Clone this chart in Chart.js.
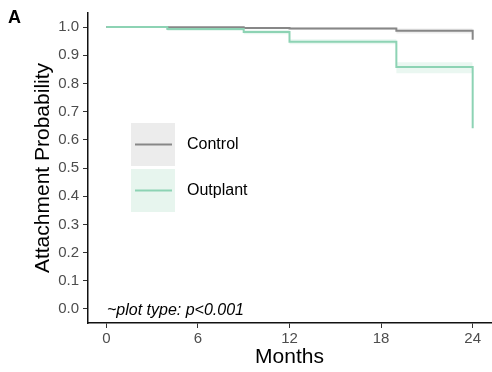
<!DOCTYPE html>
<html>
<head>
<meta charset="utf-8">
<script src="https://cdn.jsdelivr.net/npm/chart.js@4"></script>
<style>
  html, body { margin: 0; padding: 0; background: #fff; }
  #wrap { width: 492px; height: 372px; }
</style>
</head>
<body>
<div id="wrap"><canvas id="kmChart" width="492" height="372"></canvas></div>
<script>
// --- data ---
const months = [0, 4, 9, 12, 19, 24];
const controlSurv = [1.0, 0.999, 0.997, 0.995, 0.987, 0.955];
const controlUpper = [1.0, 1.0, 1.0, 0.999, 0.995, 0.995];
const controlLower = [1.0, 0.997, 0.993, 0.990, 0.977, 0.977];
const outplantSurv = [1.0, 0.993, 0.983, 0.948, 0.858, 0.641];
const outplantUpper = [1.0, 0.999, 0.991, 0.957, 0.875, 0.875];
const outplantLower = [1.0, 0.986, 0.975, 0.939, 0.836, 0.836];
const xTicks = [0, 6, 12, 18, 24];
const yTicks = [0, 0.1, 0.2, 0.3, 0.4, 0.5, 0.6, 0.7, 0.8, 0.9, 1.0];
const seriesNames = ['Control', 'Outplant'];

const grey = '#878787';
const green = '#8dd3b4';

const pts = (arr) => months.map((m, i) => ({ x: m, y: arr[i] }));

function band(arr, fill, color) {
    return {
        data: pts(arr),
        stepped: 'before',
        borderWidth: 0,
        pointRadius: 0,
        backgroundColor: color,
        fill: fill
    };
}

// legend, panel letter and test annotation
const extras = {
    id: 'extras',
    afterDraw(chart) {
        const ctx = chart.ctx;
        ctx.save();
        const boxes = [
            { y: 123, fill: '#ececec', line: grey, name: seriesNames[0] },
            { y: 169, fill: '#e7f5ee', line: green, name: seriesNames[1] }
        ];
        boxes.forEach((b) => {
            ctx.fillStyle = b.fill;
            ctx.fillRect(131, b.y, 44, 43);
            ctx.strokeStyle = b.line;
            ctx.lineWidth = 2;
            ctx.beginPath();
            ctx.moveTo(135, b.y + 21.5);
            ctx.lineTo(172, b.y + 21.5);
            ctx.stroke();
            ctx.fillStyle = '#000';
            ctx.font = '16px "Liberation Sans", Arial, sans-serif';
            ctx.textBaseline = 'middle';
            ctx.fillText(b.name, 187, b.y + 21.5);
        });

        ctx.font = 'bold 18px "Liberation Sans", Arial, sans-serif';
        ctx.textBaseline = 'alphabetic';
        ctx.fillText('A', 8, 23);

        ctx.font = 'italic 16px "Liberation Sans", Arial, sans-serif';
        ctx.fillText('~plot type: p<0.001', 107, 315);
        ctx.restore();
    }
};

// Chart.js paints dataset 0 last, so the green line goes first and the bands last
const ctx = document.getElementById('kmChart').getContext('2d');
const kmChart = new Chart(ctx, {
    type: 'line',
    data: {
        datasets: [
            {
                label: seriesNames[1],
                data: pts(outplantSurv),
                stepped: 'before',
                borderColor: green,
                borderWidth: 2,
                pointRadius: 0,
                fill: false
            },
            {
                label: seriesNames[0],
                data: pts(controlSurv),
                stepped: 'before',
                borderColor: grey,
                borderWidth: 2,
                pointRadius: 0,
                fill: false
            },
            band(controlUpper, false, 'rgba(0,0,0,0.07)'),
            band(controlLower, '-1', 'rgba(0,0,0,0.07)'),
            band(outplantUpper, false, 'rgba(141,211,180,0.18)'),
            band(outplantLower, '-1', 'rgba(141,211,180,0.18)')
        ]
    },
    options: {
        responsive: false,
        animation: false,
        layout: { padding: { top: 10, right: 1, left: 0, bottom: 0 } },
        plugins: {
            legend: { display: false },
            tooltip: { enabled: false }
        },
        scales: {
            x: {
                type: 'linear',
                min: -1.2,
                max: 25.2,
                afterBuildTicks: (scale) => { scale.ticks = xTicks.map((v) => ({ value: v })); },
                afterFit: (scale) => { scale.height = 49; },
                ticks: {
                    color: '#4d4d4d',
                    font: { size: 15, family: '"Liberation Sans", Arial, sans-serif' },
                    padding: 2,
                    maxRotation: 0
                },
                grid: { drawOnChartArea: false, drawTicks: true, tickLength: 5, color: '#333' },
                border: { display: true, color: '#111', width: 1.5 },
                title: {
                    display: true,
                    text: 'Months',
                    color: '#000',
                    font: { size: 21, family: '"Liberation Sans", Arial, sans-serif' },
                    padding: { top: 0, bottom: 2 }
                }
            },
            y: {
                min: -0.05,
                max: 1.05,
                afterBuildTicks: (scale) => { scale.ticks = yTicks.map((v) => ({ value: v })); },
                afterFit: (scale) => { scale.width = 88; },
                ticks: {
                    color: '#4d4d4d',
                    font: { size: 15, family: '"Liberation Sans", Arial, sans-serif' },
                    padding: 4,
                    callback: (v) => v.toFixed(1)
                },
                grid: { drawOnChartArea: false, drawTicks: true, tickLength: 5, color: '#333' },
                border: { display: true, color: '#111', width: 1.5 },
                title: {
                    display: true,
                    text: 'Attachment Probability',
                    color: '#000',
                    font: { size: 21, family: '"Liberation Sans", Arial, sans-serif' },
                    padding: { top: 31, bottom: 0 }
                }
            }
        }
    },
    plugins: [extras]
});
</script>
</body>
</html>
